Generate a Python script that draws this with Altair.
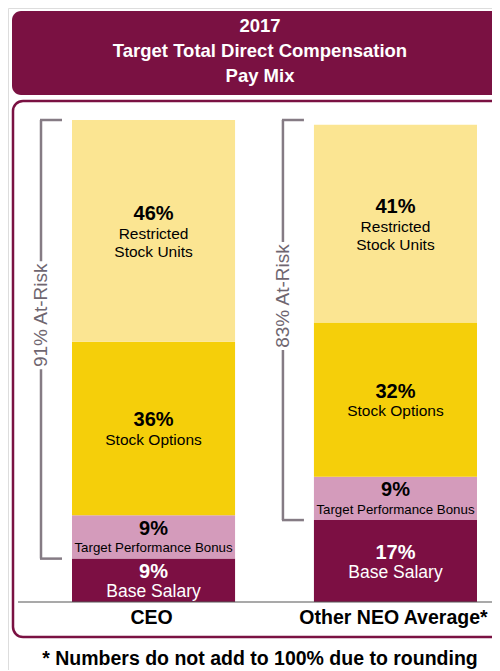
import altair as alt
import pandas as pd

# ---------------- data ----------------
categories = ["CEO", "Other NEO Average*"]
components = ["Base Salary", "Target Performance Bonus", "Stock Options", "Restricted Stock Units"]
ceo_pct = [9, 9, 36, 46]
neo_pct = [17, 9, 32, 41]
at_risk = [91, 83]
component_lines = [["Base Salary"], ["Target Performance Bonus"], ["Stock Options"], ["Restricted", "Stock Units"]]
header_lines = ["2017", "Target Total Direct Compensation", "Pay Mix"]
footnote = "* Numbers do not add to 100% due to rounding"

# ---------------- styles ----------------
colors = ["#7C0F43", "#D49BBB", "#F5CF0A", "#FBE592"]
maroon = "#7A1142"
grey = "#857B84"
label_size = {"Base Salary": 17.5, "Target Performance Bonus": 13.3,
              "Stock Options": 15.5, "Restricted Stock Units": 15.5}
text_color = {"Base Salary": "white"}
FONT = "Liberation Sans"

rows = []
for cat, vals in zip(categories, [ceo_pct, neo_pct]):
    cum = 0
    for comp, v, lines in zip(components, vals, component_lines):
        rows.append(dict(cat=cat, comp=comp, pct=f"{v}%", start=cum, end=cum + v,
                         mid=cum + v / 2, label="\n".join(lines), nlines=len(lines),
                         tcolor=text_color.get(comp, "black"), lsize=label_size[comp]))
        cum += v
df = pd.DataFrame(rows)

df_b = pd.DataFrame(dict(cat=categories, bottom=[100 - r for r in at_risk],
                         top=[100] * 2, label=[f"{r}% At-Risk" for r in at_risk]))
df_b["mid"] = (df_b["bottom"] + df_b["top"]) / 2
df_c = pd.DataFrame(dict(cat=categories))
one = pd.DataFrame({"a": [0]})

xs = alt.Scale(domain=categories, range=[64, 469], paddingInner=0.326, paddingOuter=0)
ys = alt.Scale(domain=[0, 100], range=[594, 112], nice=False, zero=False)
X = alt.X("cat:N", scale=xs, axis=None)
X0 = alt.X("cat:N", scale=xs, axis=None, bandPosition=0)
X20 = alt.X2("cat:N", bandPosition=0)

header_rect = alt.Chart(one).mark_rect(color=maroon, cornerRadius=9).encode(
    x=alt.value(4), x2=alt.value(510), y=alt.value(3), y2=alt.value(87))
header_text = alt.Chart(one).mark_text(
    text=header_lines, lineHeight=25, font=FONT,
    fontSize=18.5, fontWeight="bold", color="white", align="center", baseline="middle"
).encode(x=alt.value(252), y=alt.value(18))
outer_box = alt.Chart(one).mark_rect(
    fillOpacity=0, stroke=maroon, strokeWidth=2.5, cornerRadius=10
).encode(x=alt.value(5), x2=alt.value(510), y=alt.value(93), y2=alt.value(629))

bars = alt.Chart(df).mark_bar().encode(
    x=X, y=alt.Y("start:Q", scale=ys, axis=None), y2="end:Q",
    color=alt.Color("comp:N", scale=alt.Scale(domain=components, range=colors), legend=None))

baseline = alt.Chart(one).mark_rule(color="#555555", strokeWidth=1.2).encode(
    x=alt.value(10), x2=alt.value(492), y=alt.datum(0))

bk_line = alt.Chart(df_b).mark_rule(color=grey, strokeWidth=2.5, xOffset=-31).encode(
    x=X0, y=alt.Y("bottom:Q", scale=ys), y2="top:Q")
bk_gap = alt.Chart(df_b).mark_tick(orient="vertical", size=108, thickness=16, color="white",
                                   opacity=1, xOffset=-31, yOffset=-24).encode(
    x=X0, y=alt.Y("mid:Q", scale=ys))
bk_cap_top = alt.Chart(df_b).mark_rule(color=grey, strokeWidth=2.5,
                                       xOffset=-32, x2Offset=-10).encode(
    x=X0, x2=X20, y=alt.Y("top:Q", scale=ys))
bk_cap_bot = alt.Chart(df_b).mark_rule(color=grey, strokeWidth=2.5,
                                       xOffset=-32, x2Offset=-10).encode(
    x=X0, x2=X20, y=alt.Y("bottom:Q", scale=ys))
bk_text = alt.Chart(df_b).mark_text(angle=270, fontSize=19, font=FONT, color="#6F6670",
                                    xOffset=-31, yOffset=-24, align="center", baseline="middle").encode(
    x=X0, y=alt.Y("mid:Q", scale=ys), text="label:N")

tc = alt.Color("tcolor:N", scale=None)
pct2 = alt.Chart(df).transform_filter("datum.nlines == 2").mark_text(
    fontSize=20, fontWeight="bold", font=FONT, yOffset=-17, baseline="middle").encode(
    x=X, y=alt.Y("mid:Q", scale=ys), text="pct:N", color=tc)
pct1 = alt.Chart(df).transform_filter("datum.nlines == 1").mark_text(
    fontSize=20, fontWeight="bold", font=FONT, yOffset=-8, baseline="middle").encode(
    x=X, y=alt.Y("mid:Q", scale=ys), text="pct:N", color=tc)
lab2 = alt.Chart(df).transform_filter("datum.nlines == 2").mark_text(
    font=FONT, lineBreak="\n", lineHeight=18, yOffset=3, baseline="middle").encode(
    x=X, y=alt.Y("mid:Q", scale=ys), text="label:N", color=tc,
    size=alt.Size("lsize:Q", scale=None))
lab1 = alt.Chart(df).transform_filter("datum.nlines == 1").mark_text(
    font=FONT, yOffset=11.5, baseline="middle").encode(
    x=X, y=alt.Y("mid:Q", scale=ys), text="label:N", color=tc,
    size=alt.Size("lsize:Q", scale=None))

cat_labels = alt.Chart(df_c).mark_text(fontSize=19.5, fontWeight="bold", font=FONT, color="black",
                                       yOffset=16, xOffset=-2, baseline="middle").encode(
    x=X, y=alt.datum(0), text="cat:N")

foot = alt.Chart(one).mark_text(text=footnote, fontSize=19.5, fontWeight="bold", font=FONT,
                                color="black", align="center", baseline="middle").encode(
    x=alt.value(252), y=alt.value(651))

chart = alt.layer(
    header_rect, header_text, outer_box, bars, baseline,
    bk_line, bk_gap, bk_cap_top, bk_cap_bot, bk_text,
    pct2, pct1, lab2, lab1, cat_labels, foot
).properties(
    width=484, height=662, padding=0, autosize=alt.AutoSizeParams(type="none")
).configure_view(stroke=None).configure(background="white")

chart.save("out.html", embed_options={"renderer": "svg", "actions": False})
